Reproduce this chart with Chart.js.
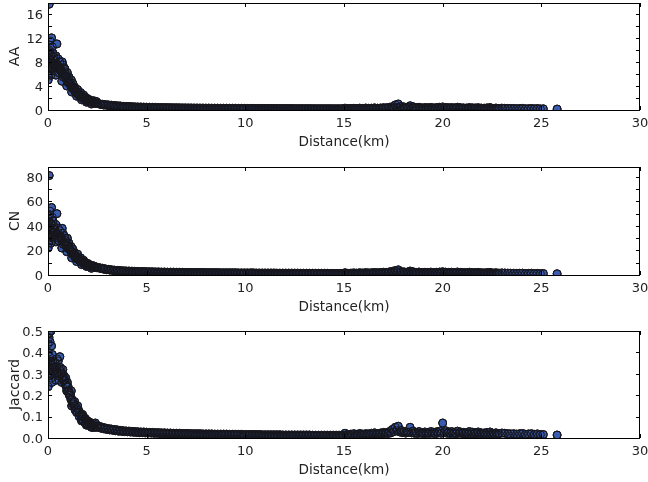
<!DOCTYPE html>
<html>
<head>
<meta charset="utf-8">
<script src="https://cdn.jsdelivr.net/npm/chart.js@4/dist/chart.umd.min.js"></script>
<style>
html,body{margin:0;padding:0;background:#fff;width:648px;height:482px;overflow:hidden;}
canvas{position:absolute;left:0;}
</style>
</head>
<body>
<canvas id="c1" width="648" height="160" style="top:0px"></canvas>
<canvas id="c2" width="648" height="161" style="top:164px"></canvas>
<canvas id="c3" width="648" height="168" style="top:320px"></canvas>
<script>
// ---- data: each point is one pair ----
// near-field cloud (0 - 2.5 km)
const nearDist = [
 0.00,0.00,0.00,0.01,0.02,0.03,0.05,0.06,0.08,0.10,0.10,0.12,0.15,0.18,0.20,0.22,0.25,0.28,0.30,0.33,
 0.36,0.40,0.45,0.48,0.52,0.55,0.60,0.62,0.68,0.72,0.75,0.78,0.82,0.86,0.90,0.94,0.98,1.02,1.06,1.10,
 1.14,1.18,1.22,1.26,1.30,1.35,1.40,1.45,1.50,1.55,1.60,1.65,1.70,1.75,1.80,1.85,1.90,1.95,2.00,2.05,
 2.10,2.15,2.20,2.25,2.30,2.35,2.40,2.45,2.50,0.40,0.70,0.95,1.20,1.45,1.70,1.95,2.20,0.20,0.55,
 0.05,0.12,0.18,0.25,0.32,0.38,0.44,0.50,0.58,0.65,0.70,0.80,0.88,0.92,1.00,1.08,1.16,1.24,1.32,1.38,
 1.48,1.58,1.68,1.78,1.88,1.98,2.08,2.18,2.28,2.38
];
const nearAA = [
 8.0,6.5,9.8,5.0,9.5,7.2,10.0,6.0,8.5,11.5,7.0,9.0,5.8,12.0,8.0,10.5,9.5,7.5,8.8,6.5,
 8.2,9.0,11.0,7.5,8.5,6.2,8.0,7.0,6.5,8.0,7.5,5.5,7.0,6.8,6.0,5.6,6.2,5.0,5.5,4.6,
 4.2,5.0,4.0,4.4,3.6,3.8,3.3,3.0,3.4,2.8,2.6,2.9,2.4,2.2,2.5,2.0,2.1,1.8,1.9,1.7,
 1.6,1.5,1.6,1.4,1.3,1.5,1.2,1.4,1.1,5.8,4.8,4.0,3.0,2.3,1.7,1.3,1.0,6.8,6.8,
 7.5,8.2,7.0,8.4,7.8,7.2,7.6,7.0,7.2,6.8,6.2,6.0,5.5,5.2,4.6,4.4,4.0,3.6,3.4,3.0,
 2.7,2.4,2.1,1.9,1.7,1.5,1.4,1.3,1.2,1.1
];
const nearCN = [
 38,30,46,22,44,33,48,28,40,52,32,42,26,55,36,47,44,34,40,30,
 37,41,50,33,38,28,36,32,30,38,34,25,32,30,28,26,30,24,26,22,
 20,23,19,21,17,18,16,15,17,14,13,14,12,11,12,10,10,9,9.5,8.5,
 8,7.5,8,7,6.8,7.2,6.5,6,6,27,22,19,14,11,8.5,7,5.5,28,30,
 34,37,31,38,35,33,34,32,32,31,28,27,25,24,22,21,19,17,16,14,
 13,12,10.5,9.5,8.5,7.8,7.2,6.8,6.4,6.0
];
const nearJac = [
 0.36,0.30,0.44,0.24,0.40,0.33,0.47,0.29,0.38,0.45,0.32,0.35,0.28,0.43,0.34,0.39,0.36,0.31,0.33,0.30,
 0.35,0.32,0.37,0.30,0.36,0.27,0.38,0.33,0.31,0.30,0.32,0.28,0.29,0.27,0.28,0.25,0.26,0.24,0.22,0.21,
 0.20,0.22,0.18,0.17,0.16,0.17,0.15,0.14,0.15,0.13,0.12,0.11,0.10,0.11,0.10,0.09,0.09,0.08,0.08,0.07,
 0.075,0.07,0.065,0.06,0.06,0.065,0.07,0.055,0.05,0.27,0.26,0.22,0.15,0.12,0.08,0.06,0.05,0.26,0.29,
 0.34,0.36,0.30,0.35,0.33,0.32,0.33,0.31,0.32,0.30,0.28,0.27,0.25,0.24,0.22,0.20,0.18,0.16,0.15,0.13,
 0.12,0.10,0.09,0.08,0.07,0.065,0.06,0.055,0.05,0.05
];
// far-field band, upper row (2.6 - 25.8 km)
const bandDist = [
 2.6,2.75,2.9,3.05,3.2,3.35,3.5,3.65,3.8,3.95,4.1,4.25,4.4,4.55,4.7,4.85,5.0,5.15,5.3,5.45,
 5.6,5.75,5.9,6.05,6.2,6.35,6.5,6.65,6.8,6.95,7.1,7.25,7.4,7.55,7.7,7.85,8.0,8.15,8.3,8.45,
 8.6,8.75,8.9,9.05,9.2,9.35,9.5,9.65,9.8,9.95,10.1,10.25,10.4,10.55,10.7,10.85,11.0,11.15,11.3,11.45,
 11.6,11.75,11.9,12.05,12.2,12.35,12.5,12.65,12.8,12.95,13.1,13.25,13.4,13.55,13.7,13.85,14.0,14.15,14.3,14.45,
 14.6,14.75,14.9,15.05,15.2,15.35,15.5,15.65,15.8,15.95,16.1,16.25,16.4,16.55,16.7,16.85,17.0,17.15,17.3,17.45,
 17.6,17.75,17.9,18.05,18.2,18.35,18.5,18.65,18.8,18.95,19.1,19.25,19.4,19.55,19.7,19.85,20.0,20.15,20.3,20.45,
 20.6,20.75,20.9,21.05,21.2,21.35,21.5,21.65,21.8,21.95,22.1,22.25,22.4,22.55,22.7,22.85,23.0,23.15,23.3,23.45,
 23.6,23.75,23.9,24.05,24.2,24.35,24.5,24.65,24.8,24.95,25.1,25.8
];
const bandAA = [
 1.05,0.95,0.9,0.85,0.8,0.75,0.7,0.68,0.62,0.6,0.58,0.55,0.52,0.5,0.5,0.48,0.46,0.45,0.44,0.43,
 0.42,0.4,0.4,0.39,0.38,0.37,0.37,0.36,0.35,0.35,0.34,0.34,0.33,0.33,0.32,0.32,0.31,0.31,0.3,0.3,
 0.3,0.29,0.29,0.29,0.28,0.28,0.28,0.27,0.27,0.27,0.26,0.26,0.26,0.25,0.25,0.25,0.25,0.24,0.24,0.24,
 0.24,0.23,0.23,0.23,0.23,0.23,0.22,0.22,0.22,0.22,0.22,0.22,0.21,0.21,0.21,0.21,0.21,0.21,0.21,0.2,
 0.2,0.2,0.2,0.3,0.22,0.25,0.28,0.24,0.3,0.26,0.32,0.28,0.3,0.35,0.3,0.33,0.38,0.36,0.45,0.55,
 0.85,1.0,0.6,0.5,0.45,0.7,0.55,0.4,0.45,0.35,0.4,0.38,0.42,0.35,0.4,0.45,0.5,0.42,0.38,0.4,
 0.35,0.45,0.38,0.35,0.32,0.4,0.36,0.34,0.38,0.32,0.3,0.35,0.4,0.28,0.32,0.25,0.3,0.28,0.26,0.24,
 0.25,0.22,0.24,0.26,0.2,0.22,0.25,0.2,0.24,0.18,0.2,0.15
];
const bandCN = [
 6.0,5.5,5.0,4.6,4.3,4.0,3.8,3.6,3.4,3.3,3.2,3.1,3.0,2.9,2.8,2.8,2.7,2.6,2.6,2.5,
 2.5,2.4,2.4,2.3,2.3,2.3,2.2,2.2,2.2,2.1,2.1,2.1,2.0,2.0,2.0,2.0,1.9,1.9,1.9,1.9,
 1.9,1.8,1.8,1.8,1.8,1.8,1.8,1.7,1.7,1.7,1.7,1.7,1.7,1.6,1.6,1.6,1.6,1.6,1.6,1.6,
 1.5,1.5,1.5,1.5,1.5,1.5,1.5,1.5,1.4,1.4,1.4,1.4,1.4,1.4,1.4,1.4,1.4,1.4,1.3,1.3,
 1.3,1.3,1.3,1.8,1.4,1.5,1.7,1.5,1.8,1.6,1.9,1.7,1.8,2.0,1.8,2.0,2.2,2.1,2.5,3.0,
 3.6,4.2,2.8,2.5,2.3,3.2,2.6,2.2,2.4,2.0,2.2,2.1,2.3,2.0,2.2,2.4,2.6,2.3,2.1,2.2,
 2.0,2.4,2.1,2.0,1.9,2.2,2.0,1.9,2.1,1.8,1.7,1.9,2.1,1.6,1.8,1.5,1.7,1.6,1.5,1.4,
 1.4,1.3,1.4,1.5,1.2,1.3,1.4,1.2,1.3,1.1,1.2,1.0
];
const bandJac = [
 0.055,0.05,0.047,0.044,0.042,0.04,0.038,0.036,0.034,0.033,0.032,0.031,0.03,0.029,0.028,0.028,0.027,0.026,0.026,0.025,
 0.025,0.024,0.024,0.023,0.023,0.022,0.022,0.022,0.021,0.021,0.021,0.02,0.02,0.02,0.02,0.019,0.019,0.019,0.019,0.018,
 0.018,0.018,0.018,0.018,0.017,0.017,0.017,0.017,0.017,0.016,0.016,0.016,0.016,0.016,0.016,0.015,0.015,0.015,0.015,0.015,
 0.015,0.015,0.014,0.014,0.014,0.014,0.014,0.014,0.014,0.014,0.014,0.014,0.013,0.013,0.013,0.013,0.013,0.013,0.013,0.013,
 0.013,0.013,0.013,0.022,0.016,0.018,0.02,0.017,0.021,0.018,0.02,0.019,0.022,0.024,0.021,0.023,0.026,0.025,0.03,0.04,
 0.05,0.055,0.035,0.03,0.028,0.05,0.032,0.026,0.03,0.025,0.028,0.026,0.03,0.027,0.029,0.032,0.07,0.034,0.028,0.03,
 0.026,0.032,0.028,0.026,0.025,0.03,0.027,0.025,0.028,0.024,0.023,0.026,0.028,0.022,0.024,0.021,0.023,0.022,0.02,0.019,
 0.02,0.018,0.02,0.021,0.017,0.019,0.02,0.017,0.019,0.016,0.016,0.014
];
// far-field band, lower row (2.68 - 22.78 km)
const lowDist = [
 2.68,2.83,2.98,3.13,3.28,3.43,3.58,3.73,3.88,4.03,4.18,4.33,4.48,4.63,4.78,4.93,5.08,5.23,5.38,5.53,
 5.68,5.83,5.98,6.13,6.28,6.43,6.58,6.73,6.88,7.03,7.18,7.33,7.48,7.63,7.78,7.93,8.08,8.23,8.38,8.53,
 8.68,8.83,8.98,9.13,9.28,9.43,9.58,9.73,9.88,10.03,10.18,10.33,10.48,10.63,10.78,10.93,11.08,11.23,11.38,11.53,
 11.68,11.83,11.98,12.13,12.28,12.43,12.58,12.73,12.88,13.03,13.18,13.33,13.48,13.63,13.78,13.93,14.08,14.23,14.38,14.53,
 14.68,14.83,14.98,15.13,15.28,15.43,15.58,15.73,15.88,16.03,16.18,16.33,16.48,16.63,16.78,16.93,17.08,17.23,17.38,17.53,
 17.68,17.83,17.98,18.13,18.28,18.43,18.58,18.73,18.88,19.03,19.18,19.33,19.48,19.63,19.78,19.93,20.08,20.23,20.38,20.53,
 20.68,20.83,20.98,21.13,21.28,21.43,21.58,21.73,21.88,22.03,22.18,22.33,22.48,22.63,22.78
];
const lowAA = [
 0.9,0.82,0.78,0.72,0.68,0.64,0.6,0.56,0.53,0.5,0.48,0.46,0.44,0.42,0.41,0.4,0.38,0.37,0.36,0.35,
 0.34,0.33,0.33,0.32,0.31,0.3,0.3,0.29,0.29,0.28,0.28,0.27,0.27,0.26,0.26,0.25,0.25,0.25,0.24,0.24,
 0.24,0.23,0.23,0.23,0.22,0.22,0.22,0.21,0.21,0.21,0.21,0.2,0.2,0.2,0.2,0.19,0.19,0.19,0.19,0.19,
 0.18,0.18,0.18,0.18,0.18,0.18,0.17,0.17,0.17,0.17,0.17,0.17,0.17,0.16,0.16,0.16,0.16,0.16,0.16,0.16,
 0.16,0.16,0.18,0.2,0.19,0.21,0.2,0.22,0.21,0.23,0.24,0.22,0.26,0.25,0.27,0.26,0.3,0.28,0.32,0.4,
 0.45,0.38,0.35,0.32,0.4,0.36,0.33,0.3,0.32,0.28,0.3,0.29,0.31,0.28,0.32,0.3,0.34,0.3,0.28,0.3,
 0.27,0.3,0.28,0.26,0.28,0.27,0.26,0.28,0.25,0.24,0.25,0.23,0.24,0.22,0.21
];
const lowCN = [
 5.2,4.7,4.3,4.0,3.7,3.5,3.3,3.1,3.0,2.9,2.8,2.7,2.6,2.5,2.5,2.4,2.3,2.3,2.2,2.2,
 2.1,2.1,2.0,2.0,2.0,1.9,1.9,1.9,1.8,1.8,1.8,1.8,1.7,1.7,1.7,1.7,1.6,1.6,1.6,1.6,
 1.6,1.5,1.5,1.5,1.5,1.5,1.5,1.4,1.4,1.4,1.4,1.4,1.4,1.3,1.3,1.3,1.3,1.3,1.3,1.3,
 1.2,1.2,1.2,1.2,1.2,1.2,1.2,1.2,1.1,1.1,1.1,1.1,1.1,1.1,1.1,1.1,1.1,1.0,1.0,1.0,
 1.0,1.1,1.2,1.3,1.2,1.3,1.3,1.4,1.3,1.4,1.5,1.4,1.6,1.5,1.6,1.6,1.8,1.7,1.9,2.3,
 2.6,2.2,2.0,1.9,2.3,2.1,1.9,1.8,1.9,1.7,1.8,1.7,1.8,1.7,1.9,1.8,2.0,1.8,1.7,1.8,
 1.6,1.8,1.7,1.6,1.7,1.6,1.6,1.7,1.5,1.5,1.5,1.4,1.5,1.4,1.3
];
const lowJac = [
 0.046,0.043,0.04,0.038,0.036,0.034,0.032,0.031,0.03,0.029,0.028,0.027,0.026,0.025,0.025,0.024,0.023,0.023,0.022,0.022,
 0.021,0.021,0.02,0.02,0.02,0.019,0.019,0.019,0.018,0.018,0.018,0.017,0.017,0.017,0.017,0.016,0.016,0.016,0.016,0.015,
 0.015,0.015,0.015,0.015,0.014,0.014,0.014,0.014,0.014,0.013,0.013,0.013,0.013,0.013,0.013,0.012,0.012,0.012,0.012,0.012,
 0.012,0.012,0.011,0.011,0.011,0.011,0.011,0.011,0.011,0.011,0.011,0.011,0.01,0.01,0.01,0.01,0.01,0.01,0.01,0.01,
 0.01,0.01,0.012,0.014,0.013,0.015,0.014,0.016,0.015,0.017,0.018,0.016,0.019,0.018,0.02,0.019,0.022,0.021,0.024,0.03,
 0.034,0.028,0.025,0.023,0.027,0.024,0.022,0.021,0.023,0.02,0.022,0.021,0.023,0.02,0.024,0.022,0.025,0.022,0.021,0.022,
 0.02,0.023,0.021,0.02,0.021,0.02,0.019,0.021,0.018,0.018,0.018,0.017,0.018,0.016,0.016
];
// isolated points drawn last
const topDist = [9.9, 0.06, 0.15];
const topAA = [0.15, 17.6, 9.2];
const topCN = [0.9, 81, 42];
const topJac = [0.004, 0.49, 0.50];

const xTicks = [0,5,10,15,20,25,30];
const xTickLabels = ['0','5','10','15','20','25','30'];
const aaTicks = [0,2,4,6,8,10,12,14,16];
const aaTickLabels = ['0','','4','','8','','12','','16'];
const cnTicks = [0,10,20,30,40,50,60,70,80];
const cnTickLabels = ['0','','20','','40','','60','','80'];
const jacTicks = [0,0.1,0.2,0.3,0.4,0.5];
const jacTickLabels = ['0.0','0.1','0.2','0.3','0.4','0.5'];

const FONT = "'DejaVu Sans', sans-serif";
const TXT = '#222';
const FILL = '#3a5cb0';
const EDGE = '#16161c';

// build point lists (drawn in order of distance, isolated points last)
function buildPoints(nearV, bandV, lowV, topV) {
  const body = [];
  nearDist.forEach((d, i) => body.push({x: d, y: nearV[i]}));
  bandDist.forEach((d, i) => body.push({x: d, y: bandV[i]}));
  lowDist.forEach((d, i) => body.push({x: d, y: lowV[i]}));
  body.sort((a, b) => a.x - b.x);
  topDist.forEach((d, i) => body.push({x: d, y: topV[i]}));
  return body;
}

const framePlugin = {
  id: 'frame',
  afterDatasetsDraw(chart) {
    const {ctx, chartArea: a, scales: {x, y}} = chart;
    ctx.save();
    ctx.strokeStyle = '#000';
    ctx.lineWidth = 1;
    ctx.beginPath();
    x.ticks.forEach(t => {
      const px = Math.round(x.getPixelForValue(t.value)) + 0.5;
      ctx.moveTo(px, a.bottom); ctx.lineTo(px, a.bottom - 4);
      ctx.moveTo(px, a.top); ctx.lineTo(px, a.top + 4);
    });
    y.ticks.forEach(t => {
      const py = Math.round(y.getPixelForValue(t.value)) + 0.5;
      ctx.moveTo(a.left, py); ctx.lineTo(a.left + 4, py);
      ctx.moveTo(a.right, py); ctx.lineTo(a.right - 4, py);
    });
    ctx.stroke();
    ctx.strokeRect(Math.round(a.left) + 0.5, Math.round(a.top) + 0.5,
                   Math.round(a.right - a.left) - 1, Math.round(a.bottom - a.top));
    ctx.restore();
  }
};

function makeChart(id, pts, yMax, yTicks, yLabels, yTitle, padTop, canvasH) {
  return new Chart(document.getElementById(id), {
    type: 'scatter',
    data: { datasets: [
      { // filled markers
        data: pts, order: 2,
        backgroundColor: FILL, borderColor: EDGE, borderWidth: 1,
        pointRadius: 4, pointHoverRadius: 4, clip: 0
      },
      { // marker outlines (dense pile-up of edges)
        data: pts, order: 1,
        backgroundColor: 'rgba(0,0,0,0)', borderColor: EDGE, borderWidth: 1,
        pointRadius: 4, pointHoverRadius: 4, clip: 0
      }
    ]},
    options: {
      responsive: false,
      animation: false,
      devicePixelRatio: 1,
      layout: { autoPadding: false, padding: { left: 0, right: 8, top: padTop, bottom: 0 } },
      plugins: { legend: {display: false}, tooltip: {enabled: false} },
      scales: {
        x: {
          type: 'linear', min: 0, max: 30,
          grid: { display: false, drawTicks: false },
          border: { display: false },
          afterBuildTicks: s => { s.ticks = xTicks.map(v => ({value: v})); },
          afterFit: s => { s.height = 50; s.paddingLeft = 0; s.paddingRight = 0; },
          ticks: {
            autoSkip: false, maxRotation: 0, padding: 6, color: TXT,
            font: { family: FONT, size: 13 },
            callback: (v, i) => xTickLabels[i]
          },
          title: { display: true, text: 'Distance(km)', color: TXT,
                   font: { family: FONT, size: 13.6 }, padding: { top: 0, bottom: 9 } }
        },
        y: {
          type: 'linear', min: 0, max: yMax,
          grid: { display: false, drawTicks: false },
          border: { display: false },
          afterBuildTicks: s => { s.ticks = yTicks.map(v => ({value: v})); },
          afterFit: s => { s.width = 48; s.paddingTop = 0; s.paddingBottom = 0; },
          ticks: {
            autoSkip: false, padding: 5, labelOffset: 1.5, color: TXT,
            font: { family: FONT, size: 13 },
            callback: (v, i) => yLabels[i]
          },
          title: { display: true, text: yTitle, color: TXT,
                   font: { family: FONT, size: 14 }, padding: { top: 7, bottom: 0 } }
        }
      }
    },
    plugins: [framePlugin]
  });
}

makeChart('c1', buildPoints(nearAA, bandAA, lowAA, topAA), 17.8, aaTicks, aaTickLabels, 'AA', 3);
makeChart('c2', buildPoints(nearCN, bandCN, lowCN, topCN), 88, cnTicks, cnTickLabels, 'CN', 3);
makeChart('c3', buildPoints(nearJac, bandJac, lowJac, topJac), 0.5, jacTicks, jacTickLabels, 'Jaccard', 11);
</script>
</body>
</html>
